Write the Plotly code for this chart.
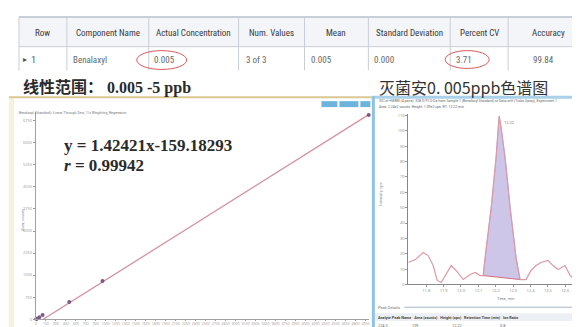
import plotly.graph_objects as go

# ---------------- data ----------------
table_headers = ["Row", "Component Name", "Actual Concentration", "Num. Values",
                 "Mean", "Standard Deviation", "Percent CV", "Accuracy"]
table_row = ["1", "Benalaxyl", "0.005", "3 of 3", "0.005", "0.000", "3.71", "99.84"]

title_left = "线性范围： 0.005 -5 ppb"
title_right = "灭菌安0. 005ppb色谱图"

# calibration curve (concentration in ppt, response in counts)
cal_conc = [5, 10, 50, 100, 500, 1000, 5000]
cal_resp = [6, 12, 60, 140, 580, 1300, 6950]
fit_slope = 1.42421
fit_intercept = -159.18293
fit_r = 0.99942
cal_x_range = [0, 5010]
cal_y_range = [0, 7050]

# chromatogram (time in min, intensity in cps)
chrom_rt = [11.697, 11.737, 11.783, 11.811, 11.840, 11.863, 11.886, 11.915, 11.944,
            11.972, 12.013, 12.053, 12.082, 12.110, 12.128, 12.139, 12.174, 12.202,
            12.214, 12.220, 12.231, 12.254, 12.283, 12.317, 12.340, 12.375, 12.403,
            12.432, 12.461, 12.501, 12.530, 12.559, 12.599, 12.628, 12.656, 12.685,
            12.714, 12.731]
chrom_int = [14.3, 16.2, 20.8, 18.8, 12.3, 2.6, 1.3, 6.5, 12.3,
             9.1, 3.2, 6.5, 7.8, 5.8, 5.8, 17.5, 50.0, 82.5,
             102.0, 109.7, 102.0, 82.5, 50.0, 17.5, 3.2, 3.2, 9.1,
             12.3, 14.3, 15.6, 12.3, 9.7, 12.3, 5.8, 3.2, 7.8,
             13.0, 14.3]
peak_rt = [12.128, 12.139, 12.174, 12.202, 12.214, 12.220, 12.231, 12.254, 12.283, 12.317, 12.340]
peak_int = [5.8, 17.5, 50.0, 82.5, 102.0, 109.7, 102.0, 82.5, 50.0, 17.5, 3.2]
peak_label = "12.22"
chrom_x_range = [11.697, 12.731]
chrom_y_range = [0, 111]
chrom_x_ticks = [11.8, 11.9, 12.0, 12.1, 12.2, 12.3, 12.4, 12.5, 12.6]
chrom_x_ticklabels = ["11.8", "11.9", "12.0", "12.1", "12.2", "12.3", "12.4", "12.5", "12.6"]

peak_table_headers = ["Analyte Peak Name", "Area (counts)", "Height (cps)", "Retention Time (min)", "Ion Ratio"]
peak_table_row = ["224.3", "109", "12.22", "0.8"]

# ---------------- layout helpers ----------------
W, H = 580, 327


def fx(x):
    return x / W


def fy(y):
    return 1 - y / H


fig = go.Figure()
shapes = []
annos = []


def text(x, y, s, size=9, color="#333", family="Roboto", xanchor="left",
         yanchor="middle", angle=0):
    annos.append(dict(x=fx(x), y=fy(y), xref="paper", yref="paper", text=s,
                      showarrow=False, xanchor=xanchor, yanchor=yanchor,
                      textangle=angle, font=dict(size=size, color=color, family=family)))


def rect(x0, y0, x1, y1, fill=None, line=None, width=1, kind="rect"):
    shapes.append(dict(type=kind, xref="paper", yref="paper",
                       x0=fx(x0), x1=fx(x1), y0=fy(y0), y1=fy(y1),
                       fillcolor=fill if fill else "rgba(0,0,0,0)",
                       line=dict(color=line if line else "rgba(0,0,0,0)", width=width),
                       layer="below" if fill else "above"))


def hline(x0, x1, y, color, width=1):
    shapes.append(dict(type="line", xref="paper", yref="paper",
                       x0=fx(x0), x1=fx(x1), y0=fy(y), y1=fy(y),
                       line=dict(color=color, width=width)))


def vline(x, y0, y1, color, width=1):
    shapes.append(dict(type="line", xref="paper", yref="paper",
                       x0=fx(x), x1=fx(x), y0=fy(y0), y1=fy(y1),
                       line=dict(color=color, width=width)))


# ---------------- table ----------------
col_edges = [10, 58, 140, 230, 296, 360, 442, 500, 580]
rect(10, 8, 580, 38, fill="#f3f5f8")
hline(10, 580, 8, "#b9c0ca", 1.5)
hline(10, 580, 38, "#c9ced6", 1)
for xe in col_edges[:-1]:
    vline(xe, 8, 62, "#c9ced6", 1)
for i, h in enumerate(table_headers):
    cx = (col_edges[i] + col_edges[i + 1]) / 2
    text(cx, 24, h, size=9, color="#3a3a3a", family="Liberation Sans Narrow, Roboto Condensed, Roboto",
         xanchor="center")
text(12, 51, "▸", size=8, color="#555")
text(20, 51, table_row[0], size=9, color="#555", family="Liberation Sans Narrow, Roboto")
data_left = [None, 62, 143, 235, 301, 364, 446, 523]
for i in range(1, len(table_row)):
    text(data_left[i], 51, table_row[i], size=9, color="#666",
         family="Liberation Sans Narrow, Roboto Condensed, Roboto")
rect(128, 42, 178, 61, line="#d85a5a", width=1, kind="circle")
rect(437, 42, 481, 60, line="#d85a5a", width=1, kind="circle")

# ---------------- titles ----------------
text(12, 79, "<b>" + title_left + "</b>", size=16, color="#2a2a2a",
     family="Liberation Serif, Noto Sans CJK SC")
text(369, 79, title_right, size=16, color="#333",
     family="Noto Sans CJK SC")

# ---------------- left panel frame ----------------
hline(0, 363, 89, "#dcc794", 2)
rect(0, 90, 5, 327, fill="#f8f1dc")
for (a, b) in [(313, 329), (331, 350), (352, 362)]:
    rect(a, 93, b, 99, fill="#6cb4dd")
text(8, 105, "Benalaxyl (Standard): Linear Through Zero, 1/x Weighting, Regression", size=3.5,
     color="#777")
text(13, 213, "Area, counts", size=4, color="#888", angle=-90, xanchor="center")

# ---------------- right panel frame ----------------
hline(363, 580, 89, "#a9d2ea", 3)
vline(365, 88, 327, "#8ec4e2", 3)
text(369, 93, "XIC of +MRM (4 pairs): 328.0/91.0 Da from Sample 1 (Benalaxyl Standard) of Data.wiff (Turbo Spray), Experiment 1",
     size=3.5, color="#666")
text(369, 99, "Area: 2.24e2 counts  Height: 1.09e2 cps  RT: 12.22 min", size=3.5, color="#666")
text(372, 187, "Intensity, cps", size=4, color="#888", angle=-90, xanchor="center")
text(497, 292, "Time, min", size=4, color="#777", xanchor="center")
text(368, 301, "Peak Details", size=4, color="#777")
hline(396, 580, 301, "#a8b8c8", 1)
rect(366, 307, 580, 315, fill="#eceff3")
text(368, 311, "<b>" + "   ".join(peak_table_headers) + "</b>", size=3.8, color="#444")
for xpos, val in zip([368, 402, 442, 490], peak_table_row):
    text(xpos, 319, val, size=3.8, color="#666")

# ---------------- calibration plot ----------------
fit_x = [cal_x_range[0], cal_conc[-1]]
fit_y = [fit_slope * v + fit_intercept for v in fit_x]
fig.add_trace(go.Scatter(x=fit_x, y=fit_y, mode="lines",
                         line=dict(color="#d3939f", width=1.3),
                         xaxis="x", yaxis="y", showlegend=False))
fig.add_trace(go.Scatter(x=cal_conc, y=cal_resp, mode="markers",
                         marker=dict(color="#7c5a86", size=4),
                         cliponaxis=False,
                         xaxis="x", yaxis="y", showlegend=False))
text(53, 138, "<b>y = 1.42421x-159.18293</b>", size=17, color="#2a2a2a",
     family="Liberation Serif")
text(53, 158, "<b><i>r</i> = %.5f</b>" % fit_r, size=17, color="#2a2a2a",
     family="Liberation Serif")

# ---------------- chromatogram ----------------
fig.add_trace(go.Scatter(x=peak_rt, y=peak_int, mode="lines", fill="toself",
                         fillcolor="rgba(165,152,214,0.55)",
                         line=dict(color="rgba(140,120,200,0.6)", width=0.8),
                         xaxis="x2", yaxis="y2", showlegend=False))
fig.add_trace(go.Scatter(x=[peak_rt[0], peak_rt[-1]], y=[peak_int[0], peak_int[-1]], mode="lines",
                         line=dict(color="#d46a7c", width=1),
                         xaxis="x2", yaxis="y2", showlegend=False))
fig.add_trace(go.Scatter(x=chrom_rt, y=chrom_int, mode="lines",
                         line=dict(color="#dc9aa5", width=1.2),
                         xaxis="x2", yaxis="y2", showlegend=False))
text(494, 115, peak_label, size=4, color="#777")

axis_common = dict(showgrid=False, zeroline=False, showline=True, ticks="outside",
                   tickcolor="#999")
fig.update_layout(
    width=W, height=H, autosize=False,
    margin=dict(l=0, r=0, t=0, b=0),
    paper_bgcolor="white", plot_bgcolor="rgba(0,0,0,0)",
    xaxis=dict(domain=[fx(27), fx(361)], range=cal_x_range, dtick=150, tick0=0,
               tickangle=0,
               linecolor="#a0a0a0", tickfont=dict(size=3.5, color="#999"), ticklen=1,
               anchor="y", **axis_common),
    yaxis=dict(domain=[fy(313), fy(104)], range=cal_y_range, dtick=750, tick0=0,
               linecolor="#a0a0a0", tickfont=dict(size=4, color="#999"), ticklen=2,
               anchor="x", **axis_common),
    xaxis2=dict(domain=[fx(400), fx(580)], range=chrom_x_range,
                tickvals=chrom_x_ticks, ticktext=chrom_x_ticklabels,
                ticklen=2, tickangle=0,
                linecolor="#888", tickfont=dict(size=4, color="#888"),
                anchor="y2", **axis_common),
    yaxis2=dict(domain=[fy(278), fy(106)], range=chrom_y_range, dtick=10, tick0=0,
                linecolor="#888", tickfont=dict(size=4, color="#888"), ticklen=2,
                anchor="x2", **axis_common),
    shapes=shapes,
    annotations=annos,
)

fig.write_html("out.html")
